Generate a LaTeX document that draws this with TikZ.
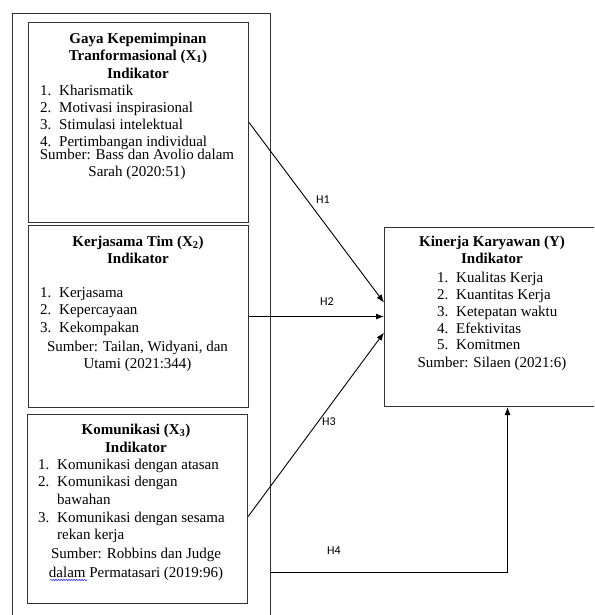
\documentclass[tikz,border=0pt]{standalone}
\usepackage{fontspec}
\setmainfont{Liberation Serif}
\newfontfamily\labelfont{Carlito}
\usetikzlibrary{arrows.meta,decorations.pathmorphing}

\newcommand{\itm}[2]{\makebox[19pt][l]{#1}#2}

\begin{document}
\begin{tikzpicture}[x=1pt, y=-1pt,
        box/.style={draw=black!80, line width=1.1pt, anchor=north west, inner sep=0pt},
        head/.style={anchor=north, align=center, inner sep=0pt, font=\fontsize{15}{17.5}\selectfont\bfseries},
        items/.style={anchor=north west, align=left, inner sep=0pt, font=\fontsize{15}{#1}\selectfont},
        items/.default=16.8,
        src/.style={anchor=north, align=center, inner sep=0pt, font=\fontsize{15}{#1}\selectfont},
        src/.default=17,
        hyp/.style={inner sep=0pt, font=\labelfont\fontsize{12}{14}\selectfont},
        >={Latex[length=8pt,width=6pt]}]
            \useasboundingbox (0, 0) rectangle (594, 615);
            \clip (0, 0) rectangle (594, 615);
            %\draw[lightgray] (0, 0) grid[step=50] (594, 615);

            % outer frame round X1, X2, X3
            \node[box, minimum width=258pt, minimum height=630pt] (outer) at (12, 13) {};

            % X1
            \node[box, minimum width=220pt, minimum height=200pt] (x1) at (28, 22) {};
            \node[head] (x1head) at (138, 32.5) {Gaya Kepemimpinan\\Tranformasional (X\textsubscript{1})\\Indikator};
            \node[items] (x1items) at (40, 85) {\itm{1.}{Kharismatik}\\\itm{2.}{Motivasi inspirasional}\\\itm{3.}{Stimulasi intelektual}\\\itm{4.}{Pertimbangan individual}};
            \node[src] (x1src) at (137, 149) {Sumber: Bass dan Avolio dalam\\Sarah (2020:51)};

            % X2
            \node[box, minimum width=220pt, minimum height=182pt] (x2) at (28, 225) {};
            \node[head] (x2head) at (138, 235.5) {Kerjasama Tim (X\textsubscript{2})\\Indikator};
            \node[items=17.3] (x2items) at (40, 287.5) {\itm{1.}{Kerjasama}\\\itm{2.}{Kepercayaan}\\\itm{3.}{Kekompakan}};
            \node[src] (x2src) at (137.5, 340.5) {Sumber: Tailan, Widyani, dan\\Utami (2021:344)};

            % X3
            \node[box, minimum width=220pt, minimum height=189pt] (x3) at (27, 414) {};
            \node[head, font=\fontsize{15}{18}\selectfont\bfseries] (x3head) at (136, 423.5) {Komunikasi (X\textsubscript{3})\\Indikator};
            \node[items=17.7] (x3items) at (38, 458.5) {\itm{1.}{Komunikasi dengan atasan}\\\itm{2.}{Komunikasi dengan}\\\itm{}{bawahan}\\\itm{3.}{Komunikasi dengan sesama}\\\itm{}{rekan kerja}};
            \node[src=18.7] (x3src) at (136, 548) {Sumber: Robbins dan Judge\\dalam Permatasari (2019:96)};
            \draw[blue!80, line width=0.6pt, decorate, decoration={snake, amplitude=0.7pt, segment length=2.6pt}] (50, 580) -- (87, 580);

            % Y
            \node[box, minimum width=217pt, minimum height=179pt] (y) at (384, 227) {};
            \node[head, font=\fontsize{15}{17}\selectfont\bfseries] (yhead) at (492, 235.5) {Kinerja Karyawan (Y)\\Indikator};
            \node[items] (yitems) at (437, 272) {\itm{1.}{Kualitas Kerja}\\\itm{2.}{Kuantitas Kerja}\\\itm{3.}{Ketepatan waktu}\\\itm{4.}{Efektivitas}\\\itm{5.}{Komitmen}};
            \node[src] (ysrc) at (492, 357) {Sumber: Silaen (2021:6)};

            % hypotheses
            \draw[->, line width=0.9pt] (x1.east) -- ([yshift=14.5pt]y.west);
            \draw[->, line width=0.9pt] (x2.east) -- (x2.east -| y.west);
            \draw[->, line width=0.9pt] ([yshift=-7.5pt]x3.east) -- ([yshift=-15.5pt]y.west);
            \draw[->, line width=0.9pt] (outer.east |- 0, 572) -| ([xshift=14.5pt]y.south);
            \node[hyp] (h1) at (323, 200) {H1};
            \node[hyp] (h2) at (327, 302) {H2};
            \node[hyp] (h3) at (329, 422) {H3};
            \node[hyp] (h4) at (334, 551) {H4};
        \end{tikzpicture}
\end{document}
